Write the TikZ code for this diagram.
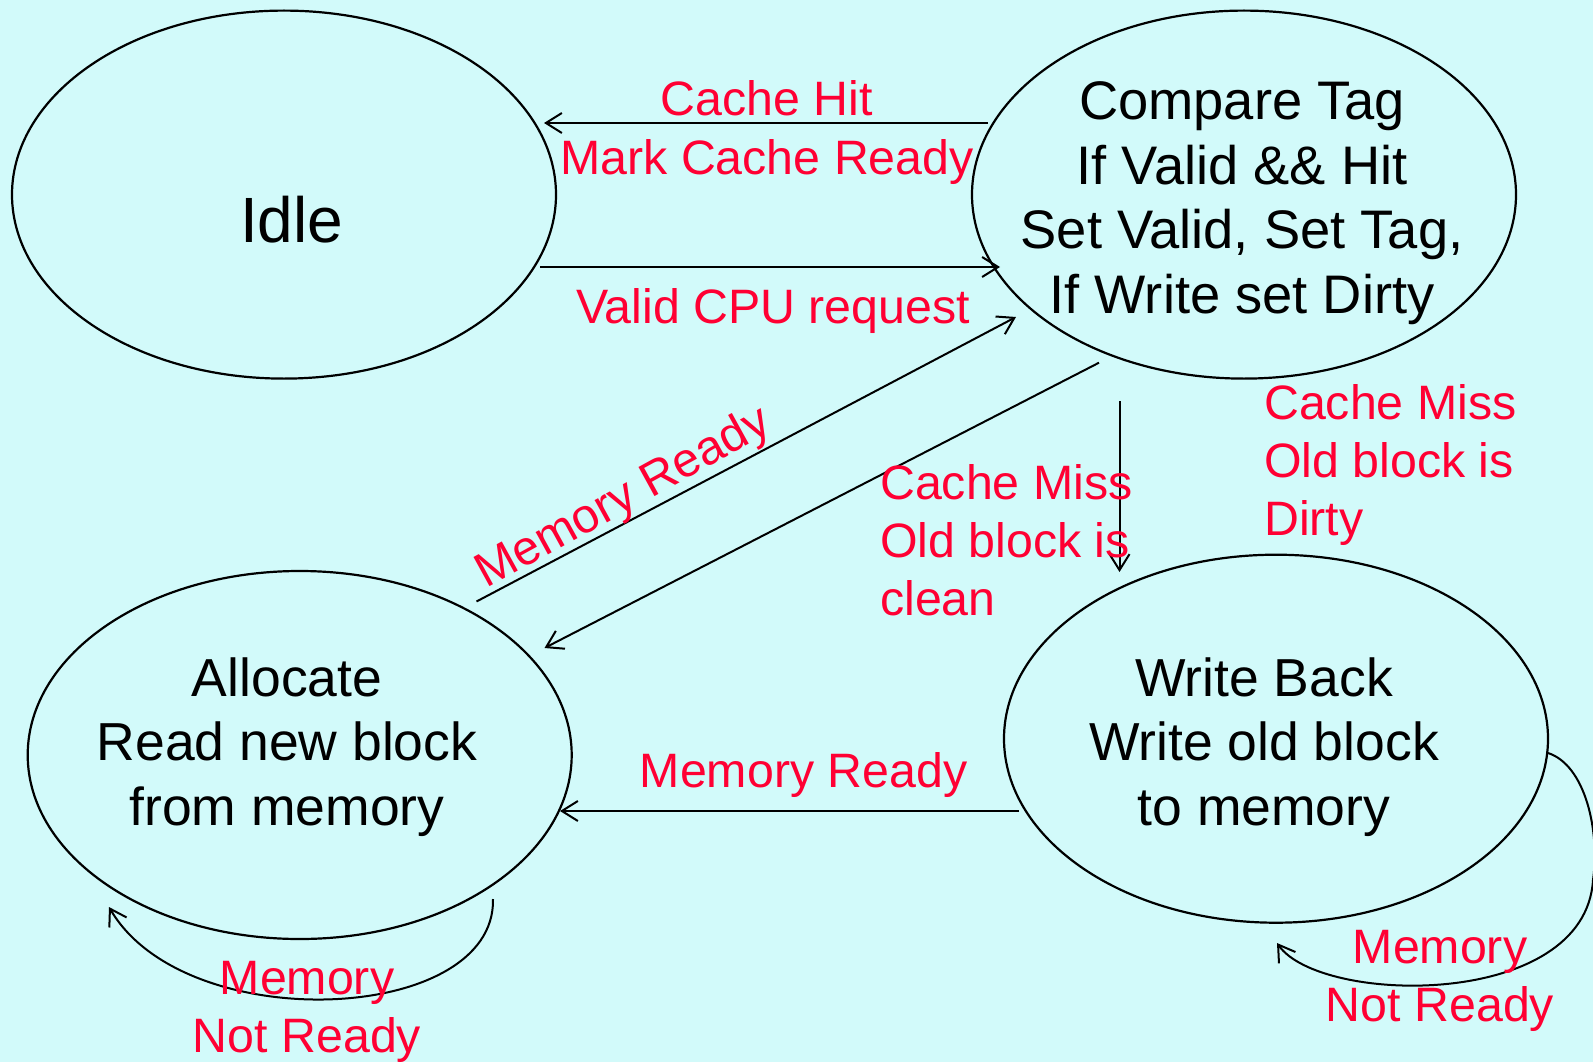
\documentclass[tikz,border=0pt]{standalone}
\usepackage{fontspec}
\setmainfont{Liberation Sans}
\usetikzlibrary{arrows.meta,shapes.geometric}
\definecolor{bgc}{RGB}{210,250,250}
\definecolor{lblc}{RGB}{255,0,51}
\begin{document}
\begin{tikzpicture}[x=1pt,y=-1pt,
  state/.style={draw=black,line width=2.2pt,ellipse,minimum width=544pt,minimum height=368pt,inner sep=0pt},
  conn/.style={draw=black,line width=2pt,-{Straight Barb[length=16pt,width=20pt]}},
  blk/.style={align=center,font=\fontsize{53.5}{64.5}\selectfont,text=black,inner sep=0pt},
  lab/.style={align=center,font=\fontsize{48.3}{58}\selectfont,text=lblc,inner sep=0pt},
  labl/.style={align=left,font=\fontsize{48.3}{58}\selectfont,text=lblc,inner sep=0pt,anchor=west}]
\useasboundingbox (0,0) rectangle (1593,1062);
\fill[bgc] (0,0) rectangle (1593,1062);
% states
\node[state] (idle) at (284,194.6) {};
\node[state] (cmp) at (1244,194.6) {};
\node[state] (alloc) at (299.7,755) {};
\node[state] (wb) at (1276,738.7) {};
% state texts
\node[blk,font=\fontsize{64}{70}\selectfont] (idleT) at (291.6,220) {Idle};
\node[blk,font=\fontsize{54.3}{64.5}\selectfont] (cmpT) at (1242,203) {Compare Tag\\If Valid \&\& Hit\\Set Valid, Set Tag,\\If Write set Dirty};
\node[blk] (allocT) at (287,747) {Allocate\\Read new block\\from memory};
\node[blk] (wbT) at (1264,747) {Write Back\\Write old block\\to memory};
% connector end points
\coordinate (hitS) at (988,123);
\coordinate (hitE) at (544,123);
\coordinate (reqS) at (540,267);
\coordinate (reqE) at (1000,267);
\coordinate (mrS) at (476.5,601.5);
\coordinate (mrE) at (1016,317);
\coordinate (cmS) at (1099,362.7);
\coordinate (cmE) at (544.5,648);
\coordinate (dS) at (1119.5,401);
\coordinate (dE) at (1119.5,572);
\coordinate (wbS) at (1019,811);
\coordinate (wbE) at (560,811);
\coordinate (alS) at (493,899);
\coordinate (alE) at (109,907);
\coordinate (wlS) at (1548,753);
\coordinate (wlM) at (1593,880);
\coordinate (wlE) at (1277,943);
% connectors
\draw[conn] (hitS) -- (hitE);
\draw[conn] (reqS) -- (reqE);
\draw[conn] (mrS) -- (mrE);
\draw[conn] (cmS) -- (cmE);
\draw[conn] (dS) -- (dE);
\draw[conn] (wbS) -- (wbE);
\draw[conn] (alS) .. controls (496,1024) and (185,1038) .. (alE);
\draw[conn] (wlS) .. controls (1585,765) and (1600,830) .. (wlM) .. controls (1585,1010) and (1320,1005) .. (wlE);
% labels
\node[lab] (l1) at (767,98.5) {Cache Hit};
\node[lab] (l2) at (767,162) {Mark Cache Ready};
\node[lab] (l3) at (773,311) {Valid CPU request};
\node[lab,rotate=28.8] (l4) at (624,499) {Memory Ready};
\node[labl] (l5) at (880,540.5) {Cache Miss\\Old block is\\clean};
\node[labl] (l6) at (1264,465) {Cache Miss\\Old block is\\Dirty};
\node[lab] (l7) at (803.6,775) {Memory Ready};
\node[lab] (l8) at (307,1012) {Memory\\Not Ready};
\node[lab] (l9) at (1440,981) {Memory\\Not Ready};
\end{tikzpicture}
\end{document}
